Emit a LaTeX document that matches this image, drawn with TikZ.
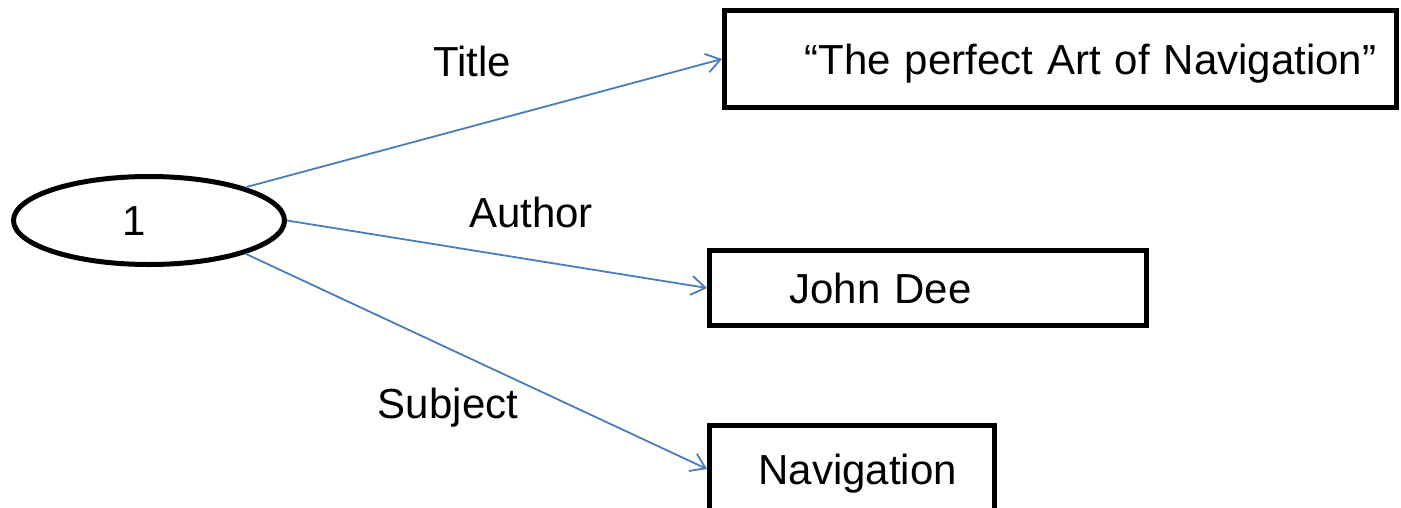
\documentclass[tikz,border=0pt]{standalone}
\usepackage{fontspec}
\setmainfont{Liberation Sans}
\usetikzlibrary{arrows.meta,shapes.geometric}
\definecolor{linkblue}{HTML}{4A7EBB}
\tikzset{
  txt/.style={font=\fontsize{42}{50}\selectfont, text height=30pt, text depth=0pt},
  valbox/.style={txt, draw=black, line width=5pt, rectangle, inner xsep=0pt, inner ysep=0pt, align=left},
  resnode/.style={txt, draw=black, line width=5pt, ellipse, inner sep=0pt, minimum width=271pt, minimum height=88pt},
  link/.style={draw=linkblue, line width=1.8pt, -{Straight Barb[length=14pt,width=19pt,line width=1.8pt]}},
  lbl/.style={txt, inner sep=0pt}
}
\begin{document}
\begin{tikzpicture}[x=1pt,y=1pt]
\useasboundingbox (0,0) rectangle (1401,-507);
\node[resnode] (r) at (149,-220.5) {1\hspace*{30pt}};
\node[valbox, text width=672pt, minimum height=97pt] (t) at (1060.5,-59) {\hspace*{80pt}“The perfect Art of Navigation”};
\node[valbox, text width=437pt, minimum height=75pt] (a) at (928,-288) {\hspace*{80pt}John Dee};
\node[valbox, text width=285pt, minimum height=87pt] (s) at (852,-469) {\hspace*{49pt}Navigation};
\draw[link] (r.19) -- (t.west);
\draw[link] (r.0) -- (a.west);
\draw[link] (r.-19) -- (s.west);
\node[lbl] (lt) at (472,-61) {Title};
\node[lbl] (la) at (531,-212) {Author};
\node[lbl] (ls) at (448,-403) {Subject};
\end{tikzpicture}
\end{document}
